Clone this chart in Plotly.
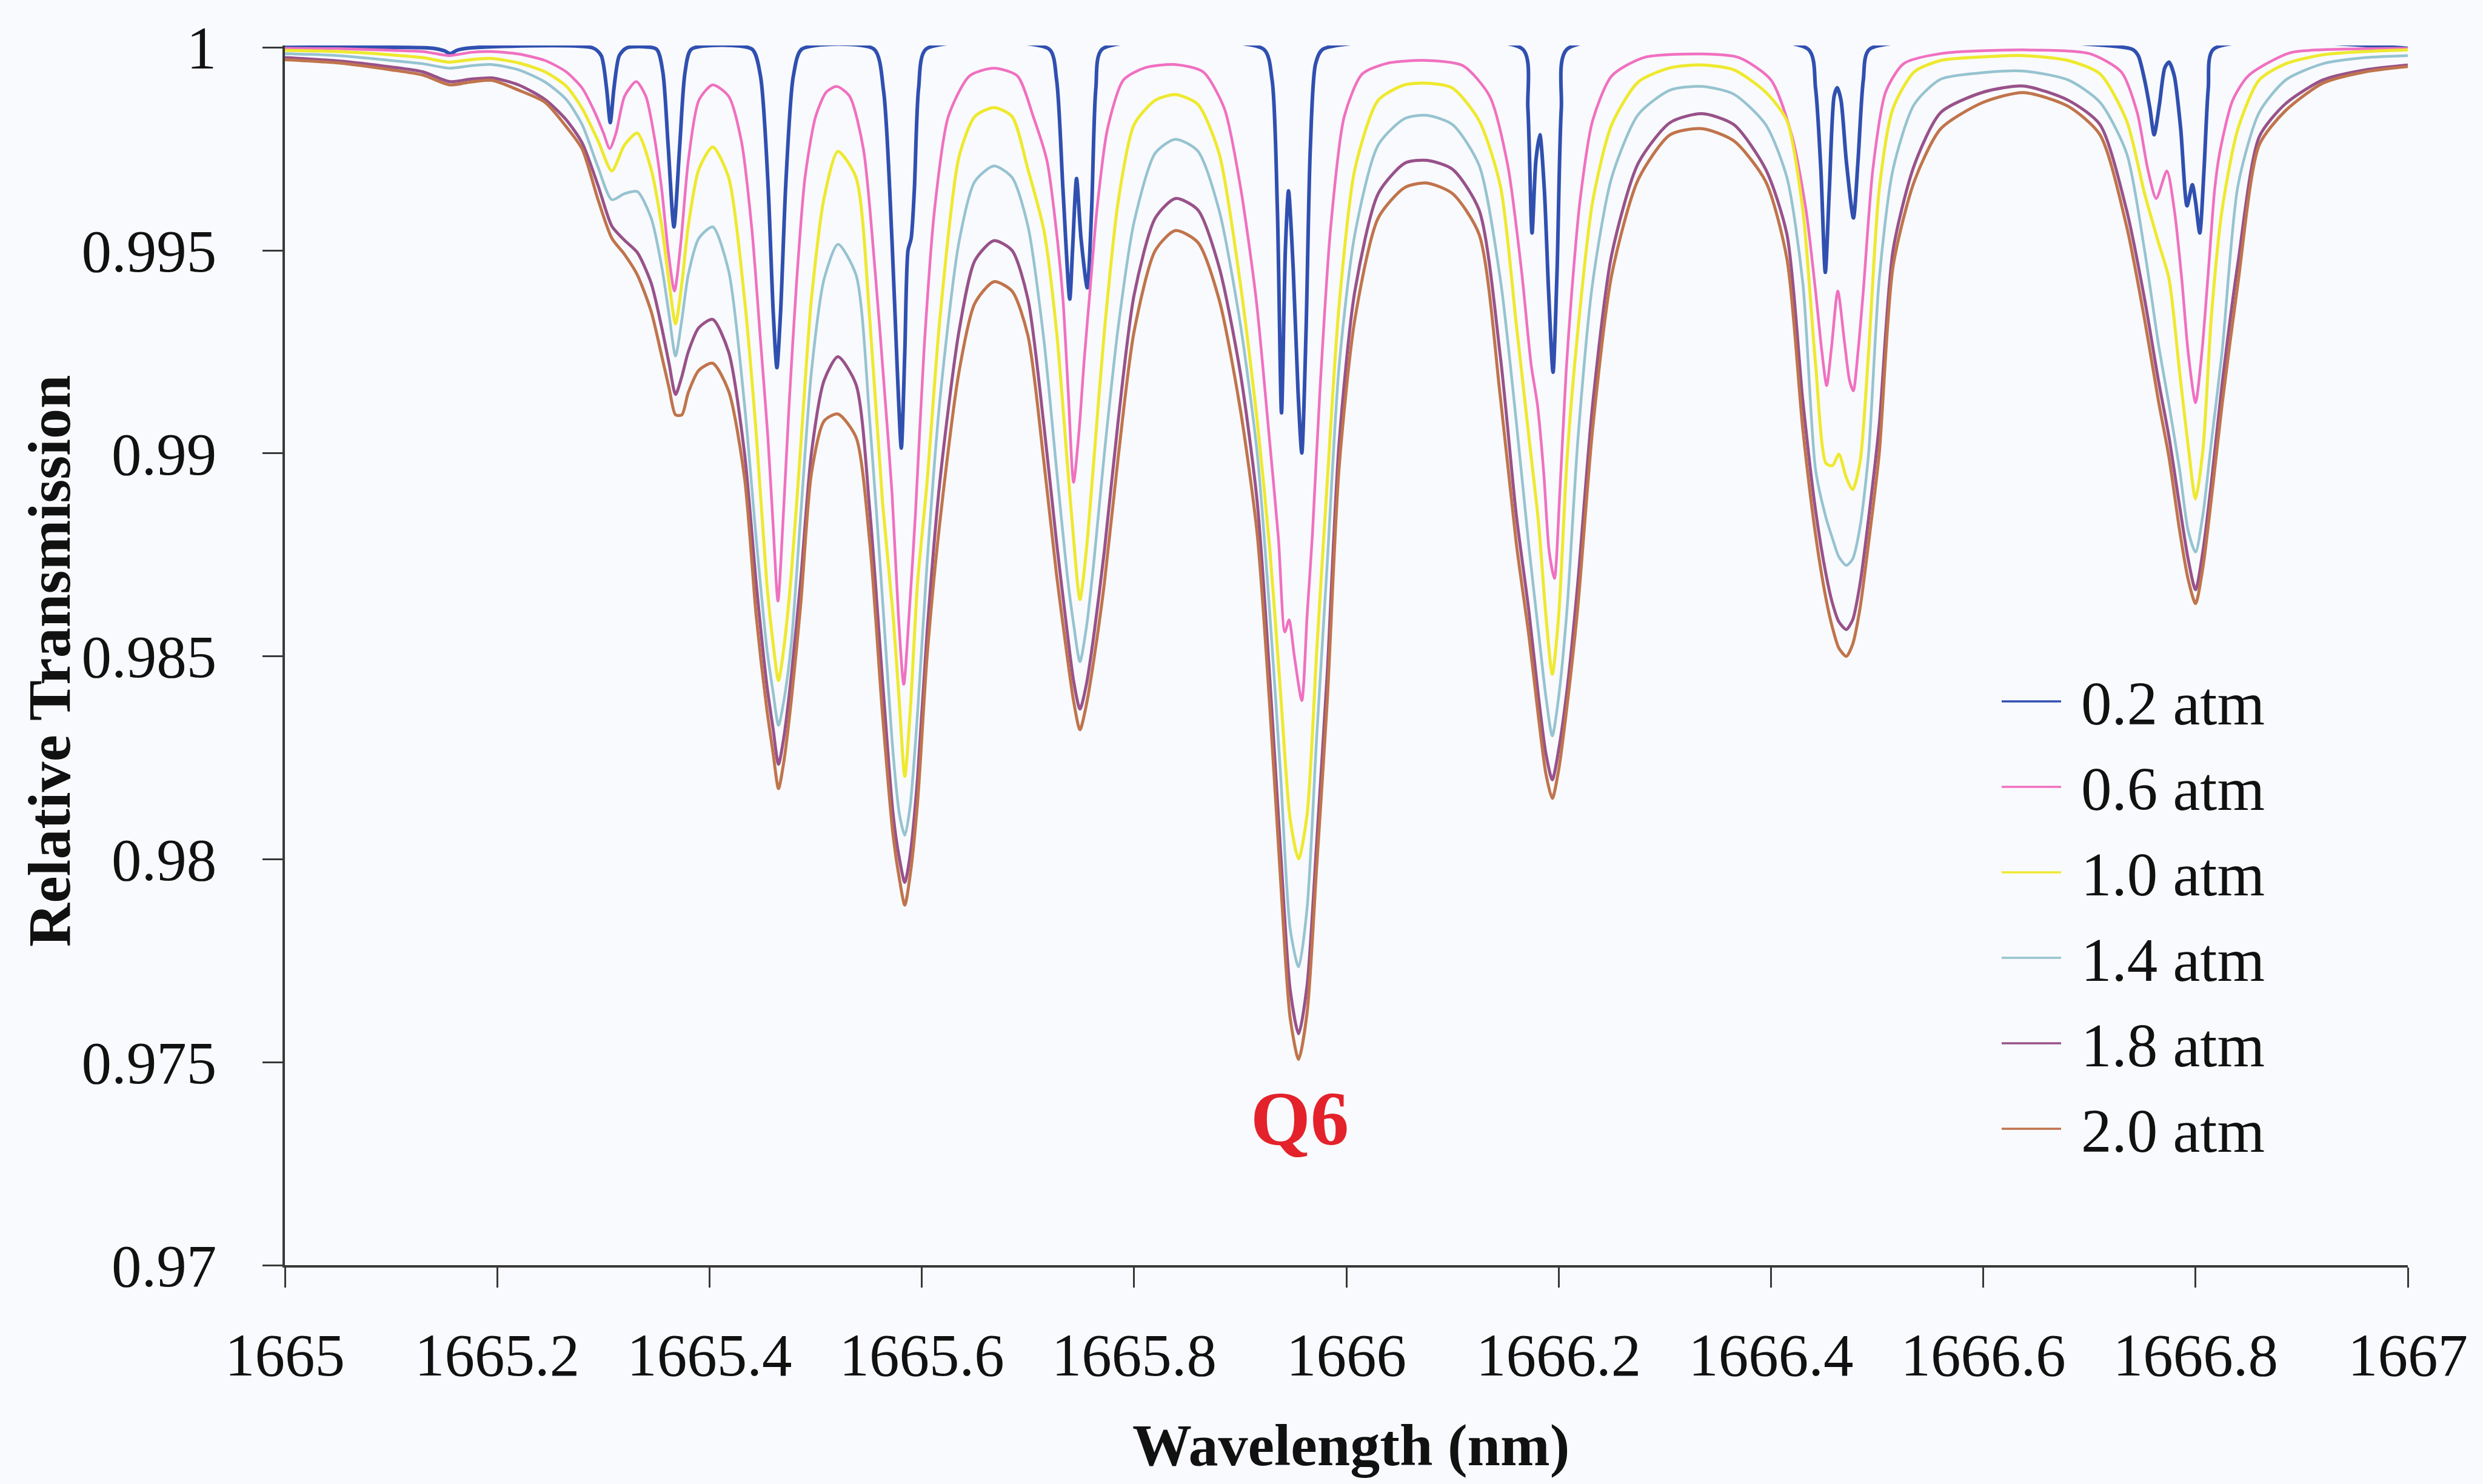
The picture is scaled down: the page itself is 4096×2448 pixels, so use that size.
import plotly.graph_objects as go

# ---------------- data ----------------
series_labels = ["0.2 atm", "0.6 atm", "1.0 atm", "1.4 atm", "1.8 atm", "2.0 atm"]

x_tick_values = [1665, 1665.2, 1665.4, 1665.6, 1665.8, 1666, 1666.2, 1666.4, 1666.6, 1666.8, 1667]
x_tick_labels = ["1665", "1665.2", "1665.4", "1665.6", "1665.8", "1666", "1666.2", "1666.4", "1666.6", "1666.8", "1667"]
y_tick_values = [0.97, 0.975, 0.98, 0.985, 0.99, 0.995, 1.0]
y_tick_labels = ["0.97", "0.975", "0.98", "0.985", "0.99", "0.995", "1"]

blue_wavelength = [
    1665.000, 1665.140, 1665.150, 1665.156, 1665.162, 1665.175, 1665.290, 1665.298, 1665.303, 1665.3065,
    1665.310, 1665.315, 1665.322, 1665.350, 1665.356, 1665.361, 1665.3665, 1665.372, 1665.377, 1665.383,
    1665.440, 1665.448, 1665.455, 1665.460, 1665.4635, 1665.467, 1665.472, 1665.479, 1665.487, 1665.555,
    1665.564, 1665.572, 1665.577, 1665.5807, 1665.584, 1665.587, 1665.590, 1665.593, 1665.597, 1665.604,
    1665.720, 1665.727, 1665.733, 1665.7394, 1665.742, 1665.7458, 1665.750, 1665.7559, 1665.760, 1665.764,
    1665.770, 1665.922, 1665.930, 1665.935, 1665.9389, 1665.9425, 1665.9455, 1665.950, 1665.9545, 1665.958,
    1665.962, 1665.966, 1665.971, 1665.978, 1666.166, 1666.171, 1666.1749, 1666.1785, 1666.1823, 1666.1865,
    1666.1905, 1666.1947, 1666.1985, 1666.2025, 1666.208, 1666.435, 1666.442, 1666.447, 1666.4512, 1666.455,
    1666.4595, 1666.4625, 1666.466, 1666.471, 1666.4777, 1666.482, 1666.487, 1666.493, 1666.740, 1666.746,
    1666.752, 1666.757, 1666.761, 1666.766, 1666.771, 1666.775, 1666.780, 1666.786, 1666.792, 1666.797,
    1666.800, 1666.804, 1666.808, 1666.812, 1666.817, 1667.000]
t_0_2_atm = [
    1.00000, 0.99998, 0.99992, 0.99985, 0.99993, 0.99999, 0.99999, 0.99980, 0.99900, 0.99815,
    0.99900, 0.99980, 0.99999, 0.99996, 0.99940, 0.99760, 0.99558, 0.99760, 0.99940, 0.99996,
    0.99996, 0.99930, 0.99670, 0.99350, 0.99211, 0.99350, 0.99670, 0.99930, 0.99996, 0.99996,
    0.99893, 0.99520, 0.99200, 0.99013, 0.99250, 0.99500, 0.99530, 0.99650, 0.99900, 0.99996,
    0.99996, 0.99920, 0.99650, 0.99380, 0.99500, 0.99677, 0.99530, 0.99408, 0.99600, 0.99900,
    0.99996, 0.99996, 0.99920, 0.99600, 0.99100, 0.99500, 0.99647, 0.99450, 0.99150, 0.99001,
    0.99300, 0.99750, 0.99960, 0.99996, 0.99996, 0.99850, 0.99543, 0.99720, 0.99785, 0.99650,
    0.99400, 0.99200, 0.99450, 0.99850, 0.99996, 0.99996, 0.99900, 0.99700, 0.99446, 0.99650,
    0.99880, 0.99901, 0.99870, 0.99720, 0.99580, 0.99720, 0.99920, 0.99996, 0.99996, 0.99980,
    0.99920, 0.99850, 0.99785, 0.99860, 0.99950, 0.99964, 0.99930, 0.99800, 0.99610, 0.99662,
    0.99620, 0.99543, 0.99700, 0.99900, 0.99996, 0.99998]

pink_wavelength = [
    1665.000, 1665.050, 1665.100, 1665.130, 1665.155, 1665.175, 1665.195, 1665.220, 1665.245, 1665.265,
    1665.280, 1665.292, 1665.300, 1665.306, 1665.312, 1665.320, 1665.331, 1665.340, 1665.348, 1665.355,
    1665.361, 1665.367, 1665.373, 1665.380, 1665.390, 1665.403, 1665.418, 1665.430, 1665.440, 1665.448,
    1665.455, 1665.460, 1665.4645, 1665.469, 1665.475, 1665.482, 1665.490, 1665.500, 1665.510, 1665.520,
    1665.532, 1665.545, 1665.556, 1665.565, 1665.572, 1665.578, 1665.583, 1665.588, 1665.594, 1665.602,
    1665.612, 1665.625, 1665.645, 1665.668, 1665.690, 1665.705, 1665.718, 1665.728, 1665.733, 1665.738,
    1665.743, 1665.748, 1665.753, 1665.758, 1665.765, 1665.775, 1665.790, 1665.810, 1665.839, 1665.865,
    1665.885, 1665.900, 1665.915, 1665.927, 1665.936, 1665.942, 1665.946, 1665.951, 1665.958, 1665.963,
    1665.968, 1665.975, 1665.985, 1665.998, 1666.015, 1666.040, 1666.076, 1666.110, 1666.135, 1666.152,
    1666.165, 1666.174, 1666.180, 1666.186, 1666.191, 1666.196, 1666.201, 1666.207, 1666.212, 1666.220,
    1666.232, 1666.250, 1666.280, 1666.335, 1666.370, 1666.400, 1666.420, 1666.433, 1666.442, 1666.448,
    1666.4525, 1666.457, 1666.463, 1666.469, 1666.474, 1666.4776, 1666.482, 1666.487, 1666.496, 1666.508,
    1666.525, 1666.560, 1666.638, 1666.700, 1666.730, 1666.745, 1666.755, 1666.763, 1666.773, 1666.780,
    1666.787, 1666.793, 1666.800, 1666.806, 1666.812, 1666.818, 1666.823, 1666.835, 1666.850, 1666.889,
    1666.940, 1667.000]
t_0_6_atm = [
    0.99998, 0.99997, 0.99993, 0.99990, 0.99980, 0.99988, 0.99990, 0.99984, 0.99968, 0.99940,
    0.99900, 0.99840, 0.99790, 0.99751, 0.99790, 0.99880, 0.99916, 0.99880, 0.99780, 0.99650,
    0.99500, 0.99400, 0.99520, 0.99720, 0.99870, 0.99908, 0.99880, 0.99770, 0.99550, 0.99280,
    0.99040, 0.98820, 0.98636, 0.98820, 0.99120, 0.99420, 0.99680, 0.99830, 0.99890, 0.99904,
    0.99880, 0.99750, 0.99450, 0.99150, 0.98900, 0.98600, 0.98431, 0.98600, 0.98850, 0.99250,
    0.99600, 0.99830, 0.99930, 0.99949, 0.99930, 0.99830, 0.99720, 0.99520, 0.99380, 0.99150,
    0.98929, 0.99050, 0.99230, 0.99386, 0.99600, 0.99800, 0.99920, 0.99950, 0.99958, 0.99940,
    0.99850, 0.99660, 0.99380, 0.99050, 0.98790, 0.98560, 0.98590, 0.98500, 0.98391, 0.98600,
    0.98800, 0.99150, 0.99550, 0.99830, 0.99935, 0.99962, 0.99968, 0.99955, 0.99880, 0.99710,
    0.99450, 0.99220, 0.99120, 0.98950, 0.98760, 0.98692, 0.98900, 0.99200, 0.99386, 0.99620,
    0.99820, 0.99930, 0.99975, 0.99984, 0.99975, 0.99920, 0.99780, 0.99600, 0.99400, 0.99250,
    0.99167, 0.99260, 0.99400, 0.99280, 0.99180, 0.99154, 0.99250, 0.99400, 0.99700, 0.99890,
    0.99960, 0.99985, 0.99994, 0.99985, 0.99940, 0.99840, 0.99700, 0.99628, 0.99696, 0.99600,
    0.99430, 0.99250, 0.99125, 0.99250, 0.99446, 0.99650, 0.99744, 0.99870, 0.99931, 0.99987,
    0.99996, 0.99998]

# shared wavelength grid for the 1.0 / 1.4 / 1.8 / 2.0 atm curves
wavelength_grid = [
    1665.000, 1665.050, 1665.100, 1665.130, 1665.155, 1665.175, 1665.195, 1665.220, 1665.245, 1665.265,
    1665.280, 1665.295, 1665.308, 1665.320, 1665.332, 1665.345, 1665.355, 1665.362, 1665.368, 1665.374,
    1665.380, 1665.390, 1665.403, 1665.418, 1665.433, 1665.444, 1665.454, 1665.460, 1665.465, 1665.470,
    1665.477, 1665.486, 1665.496, 1665.508, 1665.521, 1665.538, 1665.551, 1665.563, 1665.573, 1665.579,
    1665.584, 1665.589, 1665.596, 1665.605, 1665.617, 1665.635, 1665.650, 1665.668, 1665.685, 1665.700,
    1665.715, 1665.727, 1665.737, 1665.743, 1665.749, 1665.755, 1665.762, 1665.772, 1665.785, 1665.800,
    1665.820, 1665.839, 1665.860, 1665.880, 1665.900, 1665.916, 1665.928, 1665.938, 1665.947, 1665.955,
    1665.963, 1665.972, 1665.982, 1665.993, 1666.008, 1666.030, 1666.055, 1666.076, 1666.100, 1666.125,
    1666.145, 1666.160, 1666.172, 1666.181, 1666.188, 1666.194, 1666.200, 1666.208, 1666.218, 1666.232,
    1666.250, 1666.275, 1666.305, 1666.335, 1666.365, 1666.395, 1666.415, 1666.430, 1666.442, 1666.452,
    1666.458, 1666.464, 1666.471, 1666.477, 1666.484, 1666.492, 1666.502, 1666.515, 1666.535, 1666.560,
    1666.600, 1666.638, 1666.680, 1666.710, 1666.735, 1666.752, 1666.765, 1666.775, 1666.785, 1666.793,
    1666.800, 1666.807, 1666.815, 1666.825, 1666.840, 1666.860, 1666.885, 1666.920, 1666.960, 1667.000]

t_1_0_atm = [
    0.99993, 0.99990, 0.99982, 0.99975, 0.99964, 0.99970, 0.99973, 0.99962, 0.99940, 0.99905,
    0.99850, 0.99770, 0.99696, 0.99760, 0.99789, 0.99700, 0.99560, 0.99420, 0.99319, 0.99420,
    0.99560, 0.99700, 0.99755, 0.99680, 0.99380, 0.99050, 0.98680, 0.98530, 0.98440, 0.98520,
    0.98700, 0.99020, 0.99380, 0.99630, 0.99744, 0.99680, 0.99330, 0.98880, 0.98600, 0.98380,
    0.98204, 0.98360, 0.98680, 0.98930, 0.99330, 0.99730, 0.99830, 0.99852, 0.99830, 0.99700,
    0.99550, 0.99300, 0.98980, 0.98790, 0.98640, 0.98760, 0.98980, 0.99300, 0.99620, 0.99810,
    0.99870, 0.99884, 0.99860, 0.99740, 0.99420, 0.99080, 0.98760, 0.98410, 0.98100, 0.98001,
    0.98110, 0.98510, 0.98930, 0.99360, 0.99700, 0.99870, 0.99908, 0.99912, 0.99900, 0.99820,
    0.99660, 0.99320, 0.99040, 0.98830, 0.98600, 0.98456, 0.98600, 0.98990, 0.99300, 0.99620,
    0.99810, 0.99915, 0.99950, 0.99957, 0.99945, 0.99890, 0.99820, 0.99600, 0.99220, 0.98975,
    0.98970, 0.98998, 0.98940, 0.98911, 0.98980, 0.99250, 0.99650, 0.99850, 0.99940, 0.99968,
    0.99977, 0.99980, 0.99968, 0.99935, 0.99820, 0.99640, 0.99520, 0.99430, 0.99200, 0.99020,
    0.98888, 0.99010, 0.99340, 0.99600, 0.99800, 0.99920, 0.99960, 0.99982, 0.99990, 0.99994]

t_1_4_atm = [
    0.99985, 0.99980, 0.99968, 0.99960, 0.99949, 0.99955, 0.99958, 0.99945, 0.99915, 0.99872,
    0.99810, 0.99705, 0.99625, 0.99640, 0.99645, 0.99580, 0.99460, 0.99340, 0.99240, 0.99330,
    0.99440, 0.99530, 0.99558, 0.99450, 0.99120, 0.98790, 0.98520, 0.98410, 0.98330, 0.98390,
    0.98530, 0.98850, 0.99200, 0.99430, 0.99515, 0.99440, 0.99080, 0.98640, 0.98260, 0.98110,
    0.98059, 0.98130, 0.98360, 0.98730, 0.99130, 0.99520, 0.99670, 0.99708, 0.99680, 0.99560,
    0.99280, 0.98960, 0.98700, 0.98580, 0.98487, 0.98570, 0.98730, 0.99000, 0.99310, 0.99570,
    0.99740, 0.99774, 0.99745, 0.99600, 0.99320, 0.99000, 0.98600, 0.98210, 0.97830, 0.97735,
    0.97880, 0.98300, 0.98730, 0.99210, 0.99540, 0.99760, 0.99825, 0.99833, 0.99810, 0.99710,
    0.99430, 0.99080, 0.98770, 0.98560, 0.98400, 0.98304, 0.98400, 0.98620, 0.99030, 0.99420,
    0.99680, 0.99835, 0.99895, 0.99904, 0.99885, 0.99810, 0.99680, 0.99420, 0.98960, 0.98840,
    0.98790, 0.98745, 0.98724, 0.98740, 0.98820, 0.99000, 0.99430, 0.99700, 0.99860, 0.99922,
    0.99938, 0.99942, 0.99920, 0.99865, 0.99740, 0.99500, 0.99270, 0.99120, 0.98960, 0.98810,
    0.98757, 0.98850, 0.99030, 0.99250, 0.99660, 0.99840, 0.99920, 0.99960, 0.99975, 0.99980]

t_1_8_atm = [
    0.99975, 0.99967, 0.99952, 0.99940, 0.99916, 0.99922, 0.99925, 0.99908, 0.99872, 0.99822,
    0.99765, 0.99660, 0.99560, 0.99525, 0.99495, 0.99420, 0.99310, 0.99220, 0.99145, 0.99190,
    0.99250, 0.99310, 0.99330, 0.99250, 0.99000, 0.98680, 0.98430, 0.98320, 0.98234, 0.98300,
    0.98450, 0.98690, 0.99000, 0.99180, 0.99238, 0.99170, 0.98860, 0.98440, 0.98110, 0.98000,
    0.97943, 0.98010, 0.98200, 0.98560, 0.98930, 0.99300, 0.99475, 0.99524, 0.99500, 0.99380,
    0.99070, 0.98780, 0.98560, 0.98440, 0.98370, 0.98430, 0.98550, 0.98760, 0.99080, 0.99390,
    0.99580, 0.99628, 0.99600, 0.99460, 0.99200, 0.98880, 0.98440, 0.98020, 0.97680, 0.97570,
    0.97690, 0.98040, 0.98460, 0.99020, 0.99400, 0.99640, 0.99715, 0.99722, 0.99700, 0.99600,
    0.99240, 0.98850, 0.98610, 0.98400, 0.98260, 0.98196, 0.98270, 0.98420, 0.98680, 0.99120,
    0.99490, 0.99715, 0.99815, 0.99837, 0.99810, 0.99700, 0.99540, 0.99130, 0.98860, 0.98700,
    0.98630, 0.98585, 0.98566, 0.98590, 0.98680, 0.98840, 0.99070, 0.99500, 0.99710, 0.99840,
    0.99890, 0.99905, 0.99870, 0.99810, 0.99600, 0.99380, 0.99180, 0.99040, 0.98870, 0.98740,
    0.98664, 0.98760, 0.98930, 0.99170, 0.99470, 0.99780, 0.99862, 0.99920, 0.99945, 0.99957]

t_2_0_atm = [
    0.99970, 0.99962, 0.99945, 0.99932, 0.99908, 0.99915, 0.99919, 0.99895, 0.99865, 0.99805,
    0.99750, 0.99625, 0.99530, 0.99490, 0.99440, 0.99350, 0.99240, 0.99160, 0.99095, 0.99095,
    0.99150, 0.99205, 0.99222, 0.99154, 0.98940, 0.98600, 0.98370, 0.98260, 0.98174, 0.98240,
    0.98390, 0.98630, 0.98950, 0.99080, 0.99097, 0.99040, 0.98780, 0.98357, 0.98058, 0.97950,
    0.97887, 0.97960, 0.98140, 0.98500, 0.98830, 0.99200, 0.99370, 0.99423, 0.99400, 0.99290,
    0.98980, 0.98700, 0.98500, 0.98390, 0.98319, 0.98380, 0.98490, 0.98680, 0.98990, 0.99300,
    0.99500, 0.99549, 0.99520, 0.99380, 0.99110, 0.98801, 0.98370, 0.97950, 0.97610, 0.97507,
    0.97622, 0.97981, 0.98391, 0.98960, 0.99330, 0.99580, 0.99655, 0.99666, 0.99640, 0.99540,
    0.99140, 0.98780, 0.98550, 0.98350, 0.98210, 0.98150, 0.98220, 0.98380, 0.98620, 0.99060,
    0.99440, 0.99675, 0.99785, 0.99800, 0.99770, 0.99670, 0.99480, 0.99060, 0.98800, 0.98640,
    0.98570, 0.98520, 0.98500, 0.98530, 0.98620, 0.98780, 0.99000, 0.99460, 0.99670, 0.99800,
    0.99865, 0.99889, 0.99855, 0.99785, 0.99560, 0.99330, 0.99130, 0.98990, 0.98810, 0.98690,
    0.98630, 0.98720, 0.98890, 0.99120, 0.99420, 0.99760, 0.99845, 0.99912, 0.99940, 0.99953]

annotation_label = "Q6"
annotation_wavelength = 1665.956
annotation_transmission = 0.97362

assert len(blue_wavelength) == len(t_0_2_atm)
assert len(pink_wavelength) == len(t_0_6_atm)
for _s in (t_1_0_atm, t_1_4_atm, t_1_8_atm, t_2_0_atm):
    assert len(_s) == len(wavelength_grid)

# ---------------- styling / layout ----------------
W, H = 4096, 2448
ML, MR, MT, MB = 470, 124, 75, 361
PW, PH = W - ML - MR, H - MT - MB
FONT = "Liberation Serif"
AXIS_COLOR = "#383838"
BG = "#f9fafd"

colors = ["#3050b0", "#f070c0", "#eee92e", "#96c3d0", "#98528a", "#c0744c"]
widths = [6, 4.5, 5, 4.5, 5, 5]
xs = [blue_wavelength, pink_wavelength, wavelength_grid, wavelength_grid, wavelength_grid, wavelength_grid]
ys = [t_0_2_atm, t_0_6_atm, t_1_0_atm, t_1_4_atm, t_1_8_atm, t_2_0_atm]


def px_x(X):
    return (X - ML) / PW


def px_y(Y):
    return (H - MB - Y) / PH


fig = go.Figure()
for name, x, y, c, w in zip(series_labels, xs, ys, colors, widths):
    fig.add_trace(go.Scatter(
        x=x, y=y, mode="lines", name=name, showlegend=False,
        line=dict(color=c, width=w, shape="spline", smoothing=0.7),
    ))

shapes = []
annotations = []
# custom legend (line sample + label)
legend_rows_px = [1157, 1298, 1439, 1580, 1721, 1862]
for name, c, ry in zip(series_labels, colors, legend_rows_px):
    shapes.append(dict(type="line", xref="paper", yref="paper",
                       x0=px_x(3302), x1=px_x(3400), y0=px_y(ry), y1=px_y(ry),
                       line=dict(color=c, width=3.5)))
    annotations.append(dict(xref="paper", yref="paper", x=px_x(3431), y=px_y(ry + 4),
                            xanchor="left", yanchor="middle", showarrow=False,
                            text=name, font=dict(family=FONT, size=101, color="#111111")))

# axis titles
annotations.append(dict(xref="paper", yref="paper", x=px_x(2228), y=px_y(2384),
                        xanchor="center", yanchor="middle", showarrow=False,
                        text="<b>Wavelength (nm)</b>",
                        font=dict(family=FONT, size=98, color="#111111")))
annotations.append(dict(xref="paper", yref="paper", x=px_x(81), y=px_y(1090),
                        xanchor="center", yanchor="middle", showarrow=False, textangle=-90,
                        text="<b>Relative Transmission</b>",
                        font=dict(family=FONT, size=100, color="#111111")))
# Q6 label
annotations.append(dict(xref="x", yref="y", x=annotation_wavelength, y=annotation_transmission,
                        xanchor="center", yanchor="middle", showarrow=False,
                        text="<b>" + annotation_label + "</b>",
                        font=dict(family=FONT, size=127, color="#e3222b")))

fig.update_layout(
    width=W, height=H,
    margin=dict(l=ML, r=MR, t=MT, b=MB, pad=0),
    paper_bgcolor=BG, plot_bgcolor=BG,
    showlegend=False,
    shapes=shapes, annotations=annotations,
    xaxis=dict(range=[1665, 1667], tickvals=x_tick_values, ticktext=x_tick_labels,
               showgrid=False, zeroline=False, showline=True, linecolor=AXIS_COLOR, linewidth=4,
               ticks="outside", ticklen=33, tickwidth=3, tickcolor=AXIS_COLOR,
               ticklabelstandoff=26,
               tickfont=dict(family=FONT, size=99, color="#111111")),
    yaxis=dict(range=[0.97, 1.00005], tickvals=y_tick_values, ticktext=y_tick_labels,
               showgrid=False, zeroline=False, showline=True, linecolor=AXIS_COLOR, linewidth=4,
               ticks="outside", ticklen=33, tickwidth=3, tickcolor=AXIS_COLOR,
               ticklabelstandoff=56,
               tickfont=dict(family=FONT, size=99, color="#111111")),
)

fig.write_html("out.html")
